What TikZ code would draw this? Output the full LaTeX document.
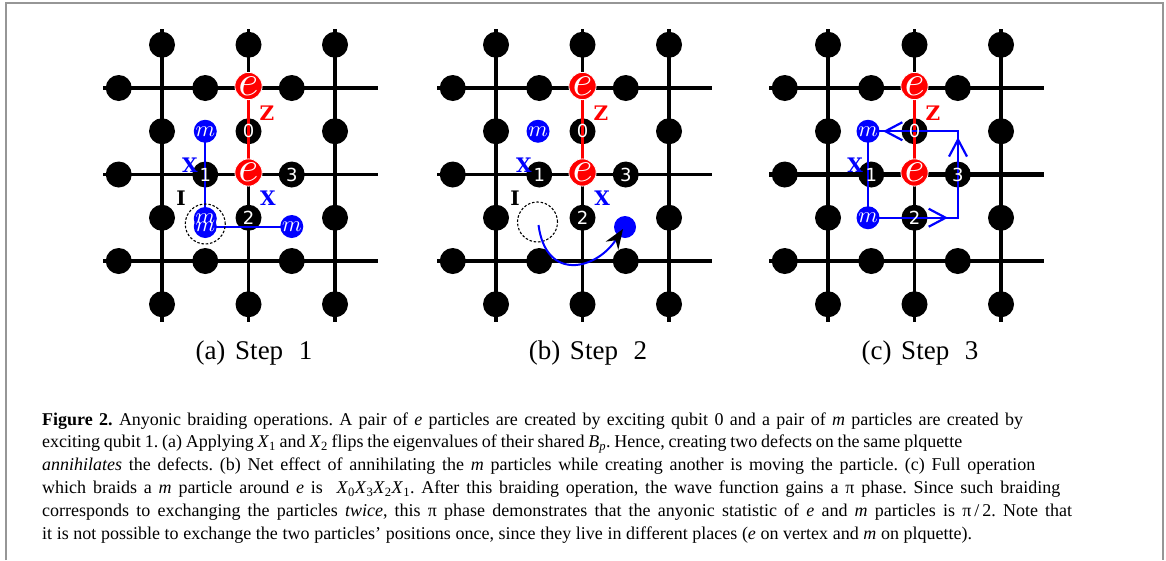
\documentclass[tikz,border=0pt]{standalone}
\usepackage{fontspec}
\setmainfont{Liberation Serif}
\newfontfamily\qsans{DejaVu Sans}
\newfontfamily\lserif{DejaVu Serif Bold}
\usetikzlibrary{arrows.meta,calc}
\definecolor{framegray}{RGB}{150,150,150}
\newcommand\capfont{\fontsize{18}{20}\selectfont\frenchspacing}
\newcommand\Xq[1]{\textit{X}\textsubscript{#1}}
\newcommand\eglyph{\resizebox{!}{18.5pt}{$e$}}
\newcommand\mglyph{\resizebox{19.5pt}{!}{$m$}}
\newcommand\capl[2]{\makebox[#1][s]{#2}}
\tikzset{
  gridline/.style={line width=3.2pt, black},
  qubit/.style={circle, fill=black, minimum size=26pt, inner sep=0pt},
  qlabel/.style={text=white, inner sep=0pt, font=\qsans\fontsize{18}{18}\selectfont},
  epart/.style={circle, fill=red, draw=white, line width=0.8pt, minimum size=25pt, inner sep=0pt, text=white},
  mpart/.style={circle, fill=blue, minimum size=23pt, inner sep=0pt, text=white},
  mglyphnode/.style={inner sep=0pt, text=white},
  zline/.style={red, line width=2.4pt},
  xline/.style={blue, line width=2pt},
  oplab/.style={inner sep=0pt, font=\lserif\fontsize{20}{20}\selectfont},
  ring/.style={circle, draw=black, dashed, dash pattern=on 2.5pt off 1.8pt, line width=1.1pt, minimum size=40pt, inner sep=0pt},
  capline/.style={anchor=base west, inner sep=0pt, font=\capfont},
  steplab/.style={anchor=base, inner sep=0pt, font=\fontsize{27}{27}\selectfont},
  barb/.style={blue, line width=2.2pt, -{Straight Barb[length=17pt,width=18pt]}}
}
% #1 prefix, #2 horizontal line width
\newcommand\lattice[2]{%
  \foreach \j in {0,1,2} {
    \draw[gridline] (162+86.5*\j, 29) -- (162+86.5*\j, 322);
  }
  \foreach \i in {0,1,2} {
    \draw[gridline, line width=#2] (103, 88+86.5*\i) -- (378, 88+86.5*\i);
  }
  \foreach \i in {0,1,2} { \foreach \j in {0,1,2} {
    \node[qubit] (#1h\i\j) at (118.75+86.5*\j, 88+86.5*\i) {};
  }}
  \foreach \i in {0,...,3} { \foreach \j in {0,1,2} {
    \node[qubit] (#1v\i\j) at (162+86.5*\j, 44.75+86.5*\i) {};
  }}
}
\newcommand\epair[1]{%
  \coordinate (#1E1) at (248.5,86);
  \coordinate (#1E2) at (248.5,172.5);
  \draw[zline] (#1E1) -- (#1E2);
}
\newcommand\qlabels[1]{%
  \node[qlabel] (#1l0) at (#1v11) {0};
  \node[qlabel] (#1l1) at (#1h11) {1};
  \node[qlabel] (#1l2) at (#1v21) {2};
  \node[qlabel] (#1l3) at (#1h12) {3};
  \node[epart] (#1e1) at (#1E1) {\eglyph};
  \node[epart] (#1e2) at (#1E2) {\eglyph};
  \node[oplab, text=red] (#1z) at (267,113) {Z};
}
\begin{document}
\begin{tikzpicture}[x=1pt,y=-1pt]
\useasboundingbox (0,0) rectangle (1166,560);
\fill[white] (0,0) rectangle (1166,560);
\draw[framegray, line width=2pt] (6,560) -- (6,3) -- (1163,3) -- (1163,560);

% ---------------- panel (a)
\begin{scope}
\lattice{a}{3.2pt}
\epair{a}
\coordinate (aM1) at (205.25,131.25);
\coordinate (aM2) at (205.25,218.5);
\coordinate (aM3) at (205.25,226.5);
\coordinate (aM4) at (291.75,226.5);
\draw[xline] (aM1) -- (aM2);
\draw[xline] (aM3) -- (aM4);
\qlabels{a}
\node[ring] (aring) at (205.25,224) {};
\node[mpart] (am1) at (aM1) {\mglyph};
\node[mpart] (am2) at (aM2) {};
\node[mpart] (am3) at (aM3) {};
\node[mglyphnode] (am2g) at (aM2) {\mglyph};
\node[mglyphnode] (am3g) at (aM3) {\mglyph};
\node[mpart] (am4) at (aM4) {\mglyph};
\node[oplab, text=blue] (ax1) at (190,165) {X};
\node[oplab, text=blue] (ax2) at (268,198) {X};
\node[oplab, text=black] (ai) at (181,198) {I};
\node[steplab] (acap) at (254,359) {(a)\hspace{3pt} Step\hspace{9pt} 1};
\end{scope}

% ---------------- panel (b)
\begin{scope}[xshift=334pt]
\lattice{b}{3.2pt}
\epair{b}
\coordinate (bM1) at (204,131.25);
\coordinate (bS) at (204.5,225);
\coordinate (bT) at (289,229);
\coordinate (bD) at (291,227);
\qlabels{b}
\node[ring] (bring) at (203.5,222) {};
\node[mpart] (bm1) at (bM1) {\mglyph};
\node[circle, fill=blue, minimum size=22pt, inner sep=0pt] (bdot) at (bD) {};
\draw[xline, -{Stealth[black, length=20pt, width=15pt]}] (bS) .. controls (212,282) and (262,270) .. (bT);
\node[oplab, text=blue] (bx1) at (190,165) {X};
\node[oplab, text=blue] (bx2) at (268,198) {X};
\node[oplab, text=black] (bi) at (181,198) {I};
\node[steplab] (bcap) at (254,359) {(b)\hspace{3pt} Step\hspace{9pt} 2};
\end{scope}

% ---------------- panel (c)
\begin{scope}[xshift=666pt]
\lattice{c}{4.3pt}
\epair{c}
\coordinate (cM1) at (202,131.25);
\coordinate (cM2) at (202,217.75);
\coordinate (cC1) at (292,217.75);
\coordinate (cC2) at (292,131.25);
\draw[xline] (cM1) -- (cM2);
\draw[xline] (cM2) -- (cC1) -- (cC2) -- (cM1);
\draw[barb] ($(cC1)+(-30,0)$) -- ($(cC1)+(-10,0)$);
\draw[barb] ($(cC2)+(0,30)$) -- ($(cC2)+(0,6)$);
\draw[barb] ($(cM1)+(35,0)$) -- ($(cM1)+(15,0)$);
\qlabels{c}
\node[mpart] (cm1) at (cM1) {\mglyph};
\node[mpart] (cm2) at (cM2) {\mglyph};
\node[oplab, text=blue] (cx1) at (189,165) {X};
\node[steplab] (ccap) at (254,359) {(c)\hspace{3pt} Step\hspace{9pt} 3};
\end{scope}

% ---------------- caption
\node[capline] (cap1) at (42,425) {\capl{981pt}{\textbf{Figure 2.} Anyonic braiding operations. A pair of \textit{e} particles are created by exciting qubit 0 and a pair of \textit{m} particles are created by}};
\node[capline] (cap2) at (42,447.8) {\capl{920pt}{exciting qubit 1. (a) Applying \Xq{1} and \Xq{2} flips the eigenvalues of their shared \textit{B}\textsubscript{\textit{p}}. Hence, creating two defects on the same plquette}};
\node[capline] (cap3) at (42,470.6) {\capl{993pt}{\textit{annihilates} the defects. (b) Net effect of annihilating the \textit{m} particles while creating another is moving the particle. (c) Full operation}};
\node[capline] (cap4) at (42,493.4) {\capl{1018pt}{which braids a \textit{m} particle around \textit{e} is\ \ \Xq{0}\Xq{3}\Xq{2}\Xq{1}. After this braiding operation, the wave function gains a π phase. Since such braiding}};
\node[capline] (cap5) at (42,516.2) {\capl{1030pt}{corresponds to exchanging the particles \textit{twice}, this π phase demonstrates that the anyonic statistic of \textit{e} and \textit{m} particles is π\,/\,2. Note that}};
\node[capline] (cap6) at (42,539) {\capl{930pt}{it is not possible to exchange the two particles' positions once, since they live in different places (\textit{e} on vertex and \textit{m} on plquette).}};
\end{tikzpicture}
\end{document}
